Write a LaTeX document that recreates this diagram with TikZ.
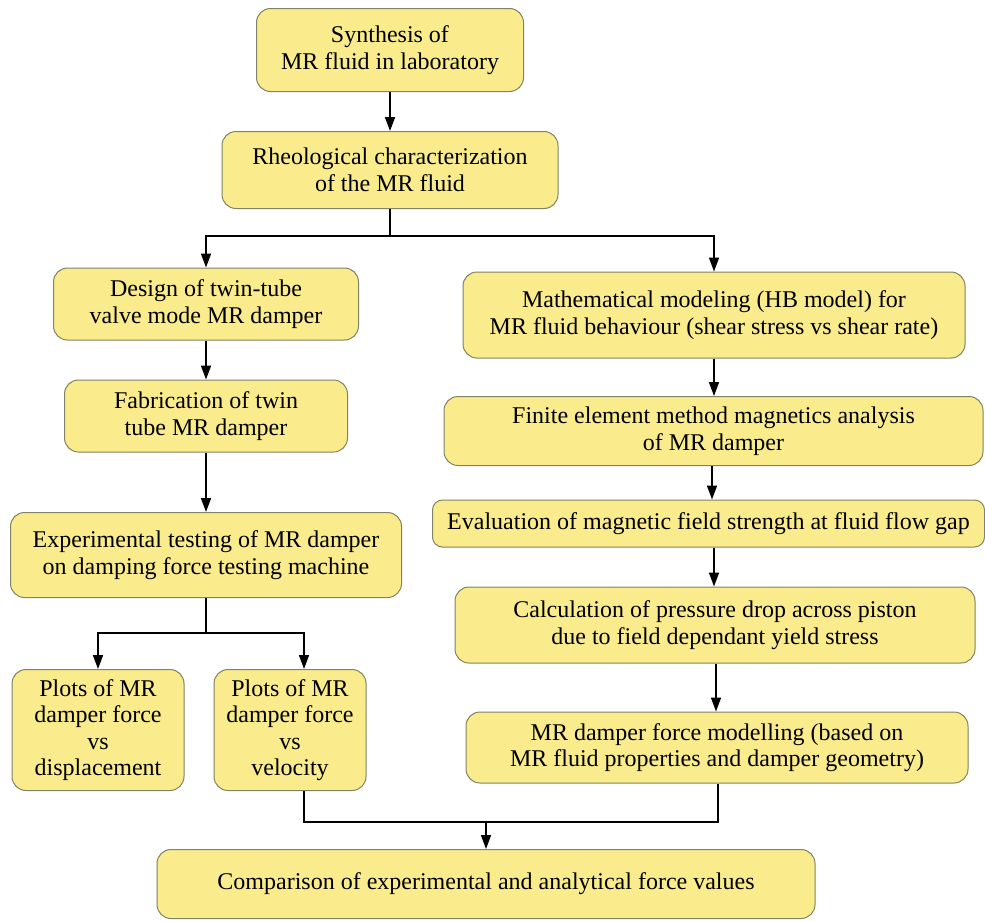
\documentclass[tikz,border=0pt]{standalone}
\usepackage{fontspec}
\setmainfont{Liberation Serif}
\usetikzlibrary{arrows.meta}
\definecolor{boxfill}{RGB}{250,236,140}
\definecolor{boxline}{RGB}{130,130,100}
\begin{document}
\begin{tikzpicture}[x=1pt,y=1pt,
  stepbox/.style={draw=boxline, line width=1pt, fill=boxfill, rounded corners=14pt,
    align=center, inner sep=0pt, font=\fontsize{24}{26.5}\selectfont},
  flow/.style={line width=1.6pt, -{Triangle[width=10pt,length=14pt]}},
  link/.style={line width=1.6pt}]
\useasboundingbox (0,0) rectangle (985,-921);
\fill[white] (0,0) rectangle (985,-921);

% boxes (width x height at fixed centres)
\node[stepbox, minimum width=267, minimum height=83] (syn) at (390,-50) {Synthesis of\\MR fluid in laboratory};
\node[stepbox, minimum width=336, minimum height=77] (rheo) at (390,-170) {Rheological characterization\\of the MR fluid};
\node[stepbox, minimum width=305, minimum height=72] (design) at (206,-304) {Design of twin-tube\\valve mode MR damper};
\node[stepbox, minimum width=283, minimum height=72] (fab) at (206,-416) {Fabrication of twin\\tube MR damper};
\node[stepbox, minimum width=391, minimum height=85] (exp) at (206,-555) {Experimental testing of MR damper\\on damping force testing machine};
\node[stepbox, minimum width=172, minimum height=121] (pdisp) at (98,-730) {Plots of MR\\damper force\\vs\\displacement};
\node[stepbox, minimum width=152, minimum height=121] (pvel) at (290,-730) {Plots of MR\\damper force\\vs\\velocity};
\node[stepbox, minimum width=502, minimum height=86] (math) at (714,-315) {Mathematical modeling (HB model) for\\MR fluid behaviour (shear stress vs shear rate)};
\node[stepbox, minimum width=539, minimum height=69] (fem) at (713.5,-431) {Finite element method magnetics analysis\\of MR damper};
\node[stepbox, minimum width=552, minimum height=47, rounded corners=10pt] (eval) at (708.5,-523.5) {Evaluation of magnetic field strength at fluid flow gap};
\node[stepbox, minimum width=520, minimum height=76] (calc) at (715,-625) {Calculation of pressure drop across piston\\due to field dependant yield stress};
\node[stepbox, minimum width=502, minimum height=71] (model) at (717,-747.5) {MR damper force modelling (based on\\MR fluid properties and damper geometry)};
\node[stepbox, minimum width=658, minimum height=69] (comp) at (486,-884) {Comparison of experimental and analytical force values};

% junction points and column guides
\coordinate (j1) at (390,-236);
\coordinate (j2) at (206,-633);
\coordinate (j3) at (486,-822);
\coordinate (c1) at (714,0);
\coordinate (c2) at (712,0);
\coordinate (c3) at (714,0);
\coordinate (c4) at (716,0);
\coordinate (c5) at (718,0);

% connectors
\draw[flow] (syn) -- (rheo);
\draw[link] (rheo) -- (j1);
\draw[flow] (j1) -| (design.north);
\draw[flow] (j1) -| (math.north);
\draw[flow] (design) -- (fab);
\draw[flow] (fab) -- (exp);
\draw[link] (exp) -- (j2);
\draw[flow] (j2) -| (pdisp.north);
\draw[flow] (j2) -| ([xshift=14pt]pvel.north);
\draw[flow] (c1 |- math.south) -- (c1 |- fem.north);
\draw[flow] (c2 |- fem.south) -- (c2 |- eval.north);
\draw[flow] (c3 |- eval.south) -- (c3 |- calc.north);
\draw[flow] (c4 |- calc.south) -- (c4 |- model.north);
\draw[link] ([xshift=14pt]pvel.south) |- (j3);
\draw[link] (c5 |- model.south) |- (j3);
\draw[flow] (j3) -- (comp);
\end{tikzpicture}
\end{document}
